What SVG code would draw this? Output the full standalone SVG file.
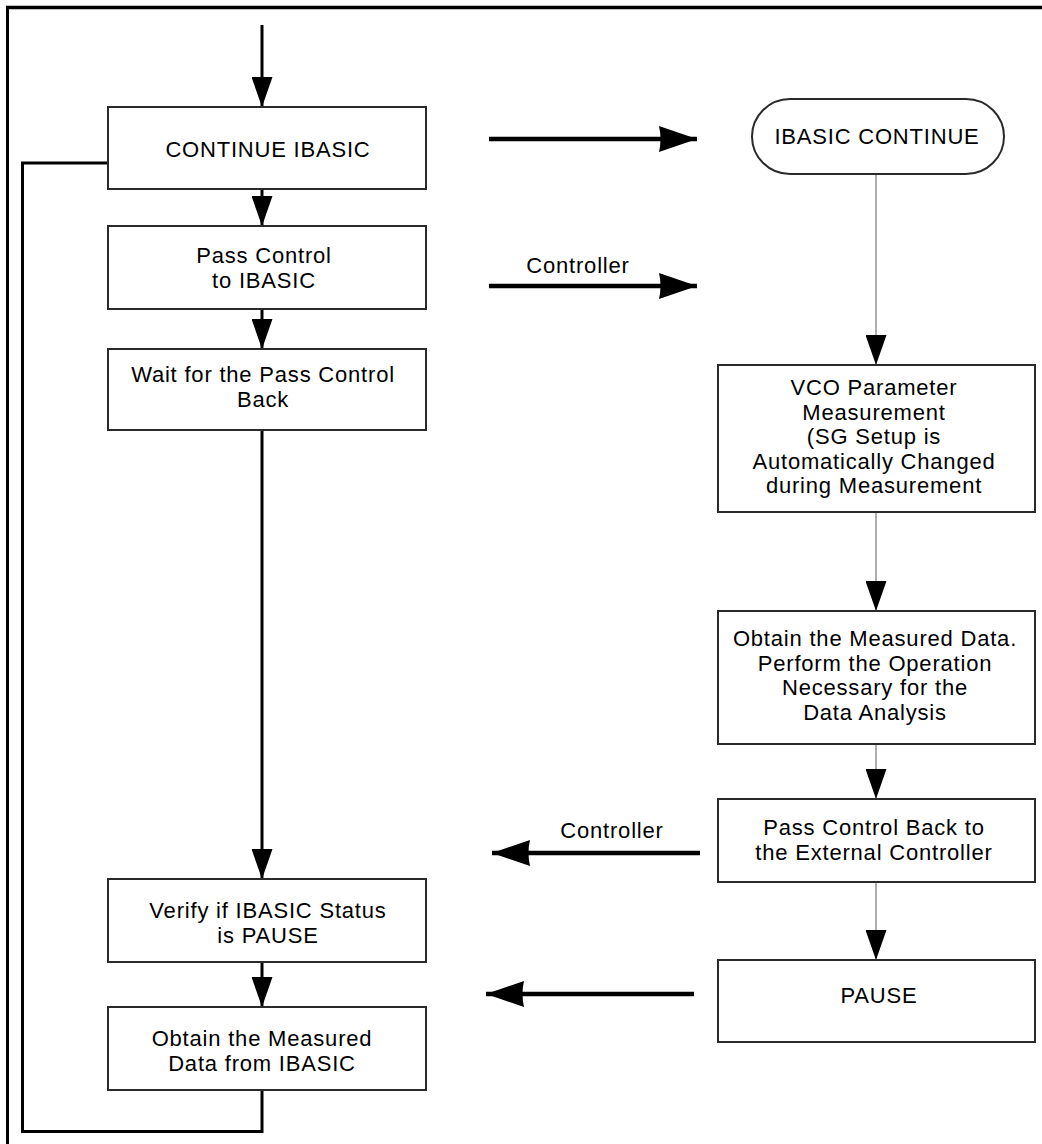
<svg xmlns="http://www.w3.org/2000/svg" width="1042" height="1144" viewBox="0 0 1042 1144">
<style>
  .box{fill:#fff;stroke:#2a2a2a;stroke-width:2}
  .t{font-family:"Liberation Sans",Arial,Helvetica,sans-serif;font-size:22px;letter-spacing:0.8px;fill:#000;text-anchor:middle}
  .thick{fill:none;stroke:#000;stroke-width:3}
  .heavy{fill:none;stroke:#000;stroke-width:4.5}
  .thin{fill:none;stroke:#7a7a7a;stroke-width:1.2}
</style>
<defs>
  <marker id="ahV" markerUnits="userSpaceOnUse" viewBox="0 0 30 21" refX="30" refY="10.5" markerWidth="30" markerHeight="21" orient="auto">
    <path d="M0,0 L30,10.5 L0,21 z" fill="#000"/>
  </marker>
  <marker id="ahH" markerUnits="userSpaceOnUse" viewBox="0 0 38 26" refX="38" refY="13" markerWidth="38" markerHeight="26" orient="auto">
    <path d="M0,0 Q3,13 0,26 L38,13 z" fill="#000"/>
  </marker>
</defs>
<rect width="1042" height="1144" fill="#fff"/>
<g id="frame">
  <line x1="6" y1="7.5" x2="1042" y2="7.5" stroke="#000" stroke-width="3.5"/>
  <line x1="7.5" y1="6" x2="7.5" y2="1144" stroke="#000" stroke-width="3"/>
</g>
<g id="connectors">
  <path class="thick" d="M262,25 V107" marker-end="url(#ahV)"/>
  <path class="thick" d="M262,189 V226" marker-end="url(#ahV)"/>
  <path class="thick" d="M262,309 V349" marker-end="url(#ahV)"/>
  <path class="thick" d="M262,430 V879" marker-end="url(#ahV)"/>
  <path class="thick" d="M262,962 V1007" marker-end="url(#ahV)"/>
  <path class="thick" d="M108,163 H22.5 V1131.5 H262 V1090"/>
  <path class="heavy" d="M489,139 H697" marker-end="url(#ahH)"/>
  <path class="heavy" d="M489,286 H697" marker-end="url(#ahH)"/>
  <path class="heavy" d="M700,853 H492" marker-end="url(#ahH)"/>
  <path class="heavy" d="M694,994 H486" marker-end="url(#ahH)"/>
  <path class="thin" d="M876,174 V365" marker-end="url(#ahV)"/>
  <path class="thin" d="M876,512 V611" marker-end="url(#ahV)"/>
  <path class="thin" d="M876,744 V799" marker-end="url(#ahV)"/>
  <path class="thin" d="M876,882 V960" marker-end="url(#ahV)"/>
  <text class="t" x="578" y="273">Controller</text>
  <text class="t" x="612" y="838">Controller</text>
</g>
<g id="continue-ibasic">
  <rect class="box" x="108" y="107" width="318" height="82"/>
  <text class="t" x="268" y="157">CONTINUE IBASIC</text>
</g>
<g id="pass-control">
  <rect class="box" x="108" y="226" width="318" height="83"/>
  <text class="t" x="264" y="263">Pass Control</text>
  <text class="t" x="264" y="288">to IBASIC</text>
</g>
<g id="wait-back">
  <rect class="box" x="108" y="349" width="318" height="81"/>
  <text class="t" x="263" y="382">Wait for the Pass Control</text>
  <text class="t" x="263" y="407">Back</text>
</g>
<g id="verify-status">
  <rect class="box" x="108" y="879" width="318" height="83"/>
  <text class="t" x="268" y="918">Verify if IBASIC Status</text>
  <text class="t" x="268" y="943">is PAUSE</text>
</g>
<g id="obtain-from-ibasic">
  <rect class="box" x="108" y="1007" width="318" height="83"/>
  <text class="t" x="262" y="1046">Obtain the Measured</text>
  <text class="t" x="262" y="1071">Data from IBASIC</text>
</g>
<g id="ibasic-continue">
  <rect class="box" x="752" y="99" width="252" height="75" rx="38" ry="37.5"/>
  <text class="t" x="877" y="144">IBASIC CONTINUE</text>
</g>
<g id="vco-measurement">
  <rect class="box" x="718" y="365" width="317" height="147"/>
  <text class="t" x="874" y="395">VCO Parameter</text>
  <text class="t" x="874" y="419.5">Measurement</text>
  <text class="t" x="874" y="444">(SG Setup is</text>
  <text class="t" x="874" y="468.5">Automatically Changed</text>
  <text class="t" x="874" y="493">during Measurement</text>
</g>
<g id="obtain-analyze">
  <rect class="box" x="718" y="611" width="317" height="133"/>
  <text class="t" x="875" y="646">Obtain the Measured Data.</text>
  <text class="t" x="875" y="670.5">Perform the Operation</text>
  <text class="t" x="875" y="695">Necessary for the</text>
  <text class="t" x="875" y="719.5">Data Analysis</text>
</g>
<g id="pass-back">
  <rect class="box" x="718" y="799" width="317" height="83"/>
  <text class="t" x="874" y="835">Pass Control Back to</text>
  <text class="t" x="874" y="860">the External Controller</text>
</g>
<g id="pause">
  <rect class="box" x="718" y="960" width="317" height="82"/>
  <text class="t" x="879" y="1003">PAUSE</text>
</g>
</svg>
